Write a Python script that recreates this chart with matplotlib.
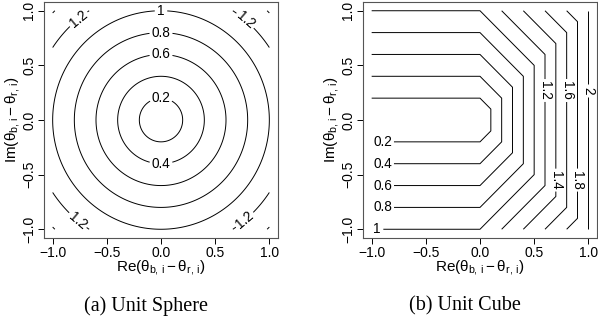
import numpy as np
import matplotlib
matplotlib.use("Agg")
import matplotlib.pyplot as plt

plt.rcParams['font.family'] = ['Liberation Sans', 'DejaVu Sans']
plt.rcParams['mathtext.fontset'] = 'custom'
plt.rcParams['mathtext.rm'] = 'Liberation Sans'
plt.rcParams['mathtext.it'] = 'Liberation Sans'
plt.rcParams['mathtext.bf'] = 'Liberation Sans:bold'
plt.rcParams['axes.unicode_minus'] = True

# ---- data ----
grid_re = np.linspace(-1.0, 1.0, 201)
grid_im = np.linspace(-1.0, 1.0, 201)

sphere_levels = [0.2, 0.4, 0.6, 0.8, 1.0, 1.2, 1.4]
sphere_label_pos = [(0.0, 1.0), (0.0, 0.8), (0.0, 0.6), (0.0, 0.2), (0.0, -0.4),
                    (-0.75, 0.91), (0.76, 0.89), (-0.77, -0.92), (0.76, -0.9)]

cube_levels = [0.2, 0.4, 0.6, 0.8, 1.0, 1.2, 1.4, 1.6, 1.8, 2.0]
cube_label_pos = [(-0.90, -0.2), (-0.90, -0.4), (-0.90, -0.6), (-0.90, -0.8), (-0.95, -0.995),
                  (0.6, 0.27), (0.8, 0.27), (0.995, 0.27), (0.7, -0.55), (0.9, -0.55)]

tick_values = [-1.0, -0.5, 0.0, 0.5, 1.0]
tick_labels = ["\u22121.0", "\u22120.5", "0.0", "0.5", "1.0"]

xlabel = r"$\mathrm{Re}(\theta_{b,\,i} - \theta_{r,\,i})$"
ylabel = r"$\mathrm{Im}(\theta_{b,\,i} - \theta_{r,\,i})$"
captions = ["(a) Unit Sphere", "(b) Unit Cube"]

X, Y = np.meshgrid(grid_re, grid_im)
Z_sphere = np.sqrt(X**2 + Y**2)
Z_cube = np.maximum(np.abs(Y), X + np.maximum(np.abs(Y), X))

fig = plt.figure(figsize=(5.98, 3.22), dpi=100)
ax_pos = [[44/598, 1-238/322, 234/598, 236/322],
          [363/598, 1-238/322, 234/598, 236/322]]

def fmt(v):
    return f"{round(v, 2):g}"

EPS = 1e-6  # keep contours lying on the domain edge inside the grid

for i, (Z, levels, lpos) in enumerate([(Z_sphere, sphere_levels, sphere_label_pos),
                                        (Z_cube, cube_levels, cube_label_pos)]):
    ax = fig.add_axes(ax_pos[i])
    lv = [l - EPS for l in levels]
    cs = ax.contour(X, Y, Z, levels=lv, colors='black', linewidths=0.7)
    ax.clabel(cs, cs.levels, manual=lpos, inline=True, fmt=fmt, fontsize=9.8, inline_spacing=3)
    ax.set_xlim(-1.08, 1.08)
    ax.set_ylim(-1.08, 1.08)
    ax.set_xticks(tick_values)
    ax.set_xticklabels(tick_labels)
    ax.set_yticks(tick_values)
    ax.set_yticklabels(tick_labels, rotation=90, va='center')
    ax.tick_params(direction='out', length=4, width=0.7, labelsize=10, pad=1.5, colors='black')
    for s in ax.spines.values():
        s.set_color('#555555')
        s.set_linewidth(0.8)
    ax.set_xlabel(xlabel, fontsize=11, labelpad=-1)
    ax.set_ylabel(ylabel, fontsize=11, labelpad=0)

fig.text(146/598, 1-306/322, captions[0], family='Liberation Serif', fontsize=14.5,
         ha='center', va='center')
fig.text(465/598, 1-306/322, captions[1], family='Liberation Serif', fontsize=14.5,
         ha='center', va='center')

fig.savefig("out.png", dpi=100)
